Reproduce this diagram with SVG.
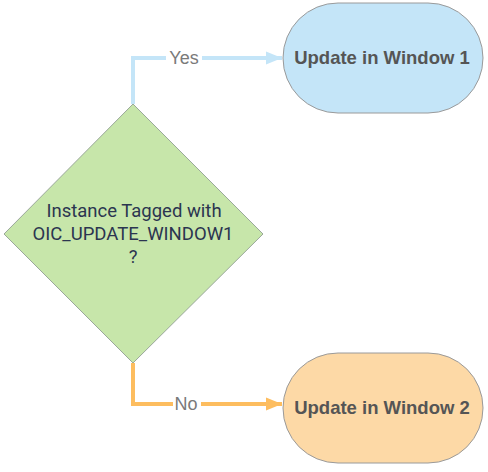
<svg xmlns="http://www.w3.org/2000/svg" width="488" height="472" viewBox="0 0 488 472">
<style>
.node-text{font-family:"Liberation Sans",Arial,sans-serif;font-weight:bold;font-size:18.5px;fill:#555555;text-anchor:middle;dominant-baseline:central}
.dec-text{font-family:Roboto,"Liberation Sans",sans-serif;font-size:18.5px;fill:#2b3550;text-anchor:middle;dominant-baseline:central}
.lbl{font-family:"Liberation Sans",Arial,sans-serif;font-size:18px;fill:#7a7a7a;text-anchor:middle;dominant-baseline:central}
.conn{fill:none;stroke-width:4}
</style>
<defs>
<marker id="arrBlue" viewBox="0 0 10 10" refX="10" refY="5" markerWidth="4" markerHeight="4" markerUnits="strokeWidth" orient="auto"><path d="M0,1 L10,5 L0,9 Z" fill="#c4e5f8"/></marker>
<marker id="arrOrange" viewBox="0 0 10 10" refX="10" refY="5" markerWidth="4" markerHeight="4" markerUnits="strokeWidth" orient="auto"><path d="M0,1 L10,5 L0,9 Z" fill="#fdbd5f"/></marker>
</defs>
<rect width="488" height="472" fill="#ffffff"/>
<g id="connectors">
<path class="conn" d="M133,104 L133,58 L282,58" stroke="#c4e5f8" marker-end="url(#arrBlue)"/>
<path class="conn" d="M133,363 L133,404 L282,404" stroke="#fdbd5f" marker-end="url(#arrOrange)"/>
<rect x="166" y="47" width="36" height="22" fill="#ffffff"/>
<rect x="173" y="393" width="28" height="22" fill="#ffffff"/>
<text class="lbl" x="184" y="58">Yes</text>
<text class="lbl" x="186" y="404">No</text>
</g>
<g id="decision">
<polygon points="133,104 263,234 133,363 4,234" fill="#c7e6aa" stroke="#9aa89a" stroke-width="1"/>
<text class="dec-text" x="134" y="211">Instance Tagged with</text>
<text class="dec-text" x="133" y="234" textLength="201" lengthAdjust="spacingAndGlyphs">OIC_UPDATE_WINDOW1</text>
<text class="dec-text" x="133" y="257">?</text>
</g>
<g id="window1">
<rect x="283" y="3" width="200" height="110" rx="55" ry="55" fill="#c4e5f8" stroke="#9a9a9a" stroke-width="1"/>
<text class="node-text" x="382" y="57">Update in Window 1</text>
</g>
<g id="window2">
<rect x="283" y="353" width="200" height="110" rx="55" ry="55" fill="#fdd9a6" stroke="#9a9a9a" stroke-width="1"/>
<text class="node-text" x="382" y="407">Update in Window 2</text>
</g>
</svg>
